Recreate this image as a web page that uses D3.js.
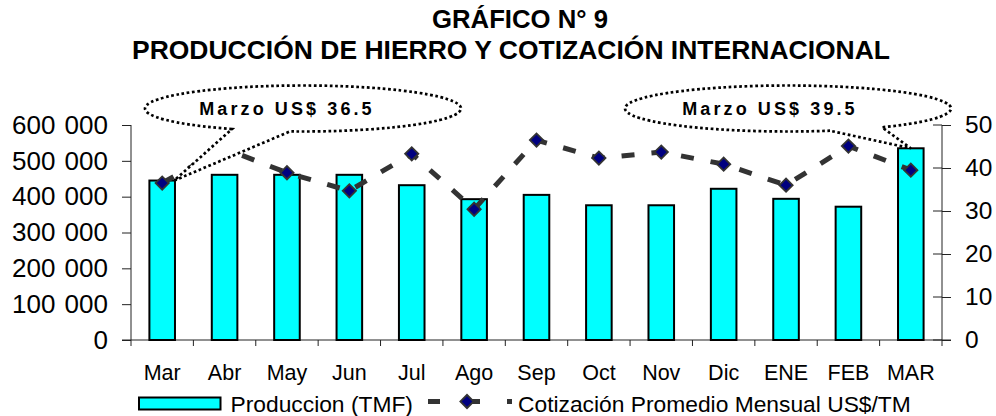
<!DOCTYPE html>
<html>
<head>
<meta charset="utf-8">
<script src="https://cdn.jsdelivr.net/npm/d3@7"></script>
<style>
  html, body { margin: 0; padding: 0; background: #fff; }
  svg { display: block; font-family: "Liberation Sans", Arial, sans-serif; }
</style>
</head>
<body>
<svg id="chart" width="996" height="416"></svg>
<script>
// ---- data ----
const months = ["Mar","Abr","May","Jun","Jul","Ago","Sep","Oct","Nov","Dic","ENE","FEB","MAR"];
const production = [445000, 461000, 461000, 461000, 432000, 393000, 405000, 376000, 376000, 422000, 394000, 372000, 535000];
const price = [36.5, 44.5, 38.9, 34.7, 43.3, 30.4, 46.5, 42.3, 43.7, 40.9, 36.0, 45.1, 39.5];
const leftTicks = [0, 100000, 200000, 300000, 400000, 500000, 600000];
const rightTicks = [0, 10, 20, 30, 40, 50];
const titleLines = ["GRÁFICO N° 9", "PRODUCCIÓN DE HIERRO Y COTIZACIÓN INTERNACIONAL"];
const seriesNames = ["Produccion (TMF)", "Cotización Promedio Mensual US$/TM"];
const callouts = [
  {label: "Marzo US$ 36.5", idx: 0},
  {label: "Marzo US$ 39.5", idx: 12}
];

// ---- layout ----
const svg = d3.select("#chart");
const X0 = 131, X1 = 942, Y0 = 340, Y1 = 125;

const x = d3.scaleBand().domain(months).range([X0, X1]).padding(0);
const yL = d3.scaleLinear().domain([0, 600000]).range([Y0, Y1]);
const yR = d3.scaleLinear().domain([0, 50]).range([Y0, Y1]);
const barW = x.bandwidth() * 0.41;
const cx = m => x(m) + x.bandwidth() / 2;

// ---- title ----
svg.append("text").attr("x", 520).attr("y", 27.5).attr("text-anchor", "middle")
  .attr("font-weight", "bold").attr("font-size", 25)
  .attr("textLength", 176).attr("lengthAdjust", "spacingAndGlyphs").text(titleLines[0]);
svg.append("text").attr("x", 511).attr("y", 58.5).attr("text-anchor", "middle")
  .attr("font-weight", "bold").attr("font-size", 25)
  .attr("textLength", 758).attr("lengthAdjust", "spacingAndGlyphs").text(titleLines[1]);

// ---- axes ----
const axisColor = "#222";
const fmtL = d => d === 0 ? "0" : d3.format(",")(d).replace(/,/g, " ");

const gL = svg.append("g").attr("transform", `translate(${X0},0)`)
  .call(d3.axisLeft(yL).tickValues(leftTicks).tickSize(9).tickPadding(14).tickFormat(fmtL));
gL.select(".domain").remove();
gL.selectAll("text").attr("font-size", 26).style("word-spacing", "2px")
  .attr("font-family", "Liberation Sans, Arial, sans-serif").attr("fill", "#000");
gL.selectAll("line").attr("stroke", axisColor);

const gR = svg.append("g").attr("transform", `translate(${X1},0)`)
  .call(d3.axisRight(yR).tickValues(rightTicks).tickSize(9).tickPadding(14));
gR.select(".domain").remove();
gR.selectAll("text").attr("font-size", 24.5).attr("font-family", "Liberation Sans, Arial, sans-serif").attr("fill", "#000");
gR.selectAll("line").attr("stroke", axisColor);
// inner half of cross ticks on right axis
svg.append("g").selectAll("line").data(rightTicks).join("line")
  .attr("x1", X1 - 9).attr("x2", X1).attr("y1", d => yR(d)).attr("y2", d => yR(d))
  .attr("stroke", axisColor);

// axis lines
svg.append("line").attr("x1", X0).attr("x2", X0).attr("y1", Y1).attr("y2", Y0 + 6).attr("stroke", axisColor);
svg.append("line").attr("x1", X1).attr("x2", X1).attr("y1", Y1).attr("y2", Y0 + 6).attr("stroke", axisColor);
svg.append("line").attr("x1", X0 - 9).attr("x2", X1 + 9).attr("y1", Y0).attr("y2", Y0).attr("stroke", axisColor);

// category boundary ticks
svg.append("g").selectAll("line").data(months.slice(1)).join("line")
  .attr("x1", d => x(d)).attr("x2", d => x(d)).attr("y1", Y0).attr("y2", Y0 + 6)
  .attr("stroke", axisColor);

// category labels
svg.append("g").selectAll("text").data(months).join("text")
  .attr("x", d => cx(d)).attr("y", 379.5).attr("text-anchor", "middle")
  .attr("font-size", 21.5).text(d => d);

// ---- bars ----
svg.append("g").selectAll("rect").data(months).join("rect")
  .attr("x", d => cx(d) - barW / 2).attr("width", barW)
  .attr("y", (d, i) => yL(production[i])).attr("height", (d, i) => Y0 - yL(production[i]))
  .attr("fill", "#00FFFF").attr("stroke", "#000").attr("stroke-width", 2);

// ---- price line ----
const line = d3.line().x((d, i) => cx(months[i])).y(d => yR(d));
svg.append("path").datum(price).attr("d", line)
  .attr("fill", "none").attr("stroke", "#333").attr("stroke-width", 5)
  .attr("stroke-dasharray", "13,17");

const diamond = d3.symbol().type(d3.symbolSquare).size(88);
svg.append("g").selectAll("path").data(price).join("path")
  .attr("d", diamond)
  .attr("transform", (d, i) => `translate(${cx(months[i])},${yR(d)}) rotate(45)`)
  .attr("fill", "#000080").attr("stroke", "#333").attr("stroke-width", 1.8);

// ---- callouts ----
const calloutGeom = [
  {ecx: 303, ecy: 108.5, rx: 158, ry: 23, ax: 232, bx: 290, textX: 287, tipDx: 12},
  {ecx: 788, ecy: 108.5, rx: 163, ry: 23, ax: 830, bx: 882, textX: 770, tipDx: 0}
];
function ellY(g, px) {
  const c = (px - g.ecx) / g.rx;
  return g.ecy + g.ry * Math.sqrt(Math.max(0, 1 - c * c));
}
callouts.forEach((c, k) => {
  const g = calloutGeom[k];
  const tipX = cx(months[c.idx]) + g.tipDx;
  const tipY = yL(production[c.idx]);
  const A = [g.ax, ellY(g, g.ax)], B = [g.bx, ellY(g, g.bx)];
  const d = `M${A[0]},${A[1]} A${g.rx},${g.ry} 0 1 1 ${B[0]},${B[1]} L${tipX},${tipY} Z`;
  svg.append("path").attr("d", d)
    .attr("fill", "#fff").attr("stroke", "#000").attr("stroke-width", 2.7)
    .attr("stroke-dasharray", "2.7,2.6");
  svg.append("text").attr("x", g.textX).attr("y", 114.5).attr("text-anchor", "middle")
    .attr("font-weight", "bold").attr("font-size", 18).attr("letter-spacing", 3.1)
    .text(c.label);
});

// ---- legend ----
svg.append("rect").attr("x", 139).attr("y", 397.5).attr("width", 81.5).attr("height", 12)
  .attr("fill", "#00FFFF").attr("stroke", "#000").attr("stroke-width", 2);
svg.append("text").attr("x", 230.5).attr("y", 411.5).attr("font-size", 22.8).text(seriesNames[0]);
svg.append("line").attr("x1", 428).attr("x2", 512).attr("y1", 401.5).attr("y2", 401.5)
  .attr("stroke", "#333").attr("stroke-width", 5).attr("stroke-dasharray", "12,22,18,27");
svg.append("path").attr("d", diamond).attr("transform", "translate(467,401.5) rotate(45)")
  .attr("fill", "#000080").attr("stroke", "#333").attr("stroke-width", 1.8);
svg.append("text").attr("x", 518).attr("y", 411.5).attr("font-size", 22.8).text(seriesNames[1]);
</script>
</body>
</html>
